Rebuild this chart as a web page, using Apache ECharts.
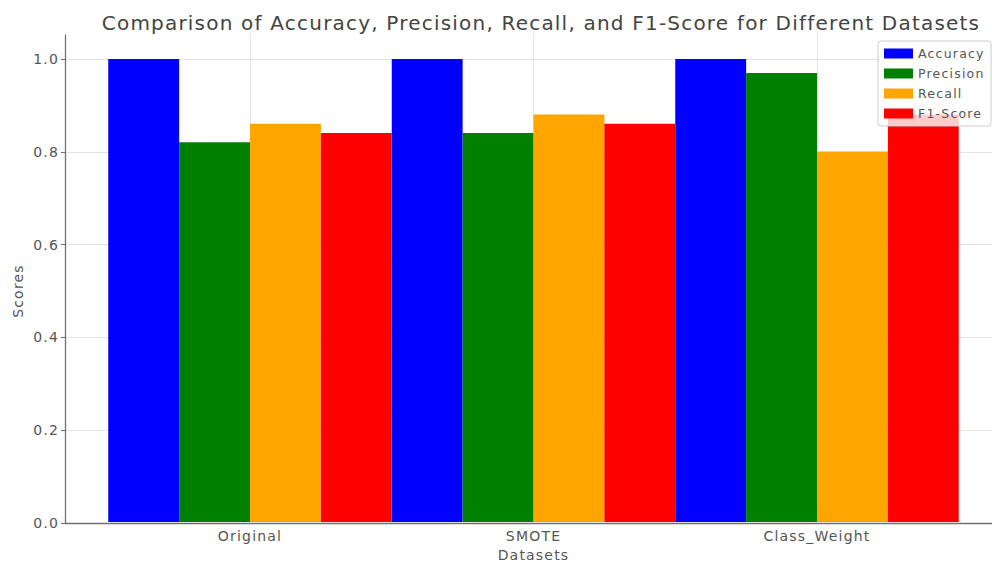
<!DOCTYPE html>
<html>
<head>
<meta charset="utf-8">
<script src="https://cdn.jsdelivr.net/npm/echarts@6/dist/echarts.min.js"></script>
<style>
  html, body { margin: 0; padding: 0; background: #fff; }
  #chart { width: 992px; height: 567px; }
  /* slightly wider lettering for all chart text */
  #chart svg text { letter-spacing: 1.2px; }
</style>
</head>
<body>
<div id="chart"></div>
<script>
// Scores per dataset variant
const datasets = ['Original', 'SMOTE', 'Class_Weight'];
const accuracy = [1.00, 1.00, 1.00];
const precision = [0.82, 0.84, 0.97];
const recall = [0.86, 0.88, 0.80];
const f1Score = [0.84, 0.86, 0.88];
const yTicks = [0, 0.2, 0.4, 0.6, 0.8, 1.0];

const metricNames = ['Accuracy', 'Precision', 'Recall', 'F1-Score'];
const metricValues = [accuracy, precision, recall, f1Score];
const metricColors = ['#0000ff', '#008000', '#ffa500', '#ff0000'];

const textColor = '#555555';
const spineColor = '#707070';
const gridColor = '#e4e4e4';
const font = 'DejaVu Sans';

const chart = echarts.init(document.getElementById('chart'), null, { renderer: 'svg' });

const series = metricNames.map((name, i) => ({
  name: name,
  type: 'bar',
  xAxisIndex: 2,
  yAxisIndex: 2,
  data: metricValues[i],
  barGap: '0%',
  barCategoryGap: '0%',
  itemStyle: { color: metricColors[i] },
  emphasis: { disabled: true }
}));

chart.setOption({
  animation: false,
  backgroundColor: '#ffffff',
  title: {
    text: 'Comparison of Accuracy, Precision, Recall, and F1-Score for Different Datasets',
    left: 536,
    textAlign: 'center',
    top: 8,
    textStyle: { fontFamily: font, fontSize: 20, fontWeight: 'normal', color: '#444444' }
  },
  legend: {
    orient: 'vertical',
    left: 878,
    top: 41,
    itemWidth: 29,
    itemHeight: 10,
    itemGap: 7,
    padding: [6, 16, 6, 6],
    backgroundColor: 'rgba(255,255,255,0.8)',
    borderColor: '#cccccc',
    borderWidth: 1,
    borderRadius: 3,
    icon: 'rect',
    textStyle: { fontFamily: font, fontSize: 12.5, color: textColor },
    data: metricNames
  },
  grid: [
    // outer frame: spines
    { left: 65, top: 35, width: 936, bottom: 44 },
    // tick labels and horizontal gridlines
    { left: 65, top: 59, width: 936, bottom: 44 },
    // bars
    { left: 108.25, top: 59, width: 850.5, bottom: 44 }
  ],
  xAxis: [
    {
      gridIndex: 0, type: 'value', min: 0, max: 1,
      axisLine: { show: true, lineStyle: { color: spineColor, width: 1.3 } },
      axisTick: { show: false }, axisLabel: { show: false }, splitLine: { show: false }
    },
    {
      gridIndex: 1, type: 'value', min: 0, max: 1, show: false
    },
    {
      gridIndex: 2, type: 'category', data: datasets,
      name: 'Datasets', nameLocation: 'middle', nameGap: 26,
      nameTextStyle: { fontFamily: font, fontSize: 14, color: textColor },
      axisLine: { show: false },
      axisTick: {
        show: true, alignWithLabel: true, inside: true, length: 488,
        lineStyle: { color: gridColor, width: 1 }
      },
      axisLabel: { fontFamily: font, fontSize: 14, color: textColor, margin: 7 },
      splitLine: { show: false }
    }
  ],
  yAxis: [
    {
      gridIndex: 0, type: 'value', min: 0, max: 1,
      axisLine: { show: true, lineStyle: { color: spineColor, width: 1.3 } },
      axisTick: { show: false }, axisLabel: { show: false }, splitLine: { show: false }
    },
    {
      gridIndex: 1, type: 'value', min: yTicks[0], max: yTicks[yTicks.length - 1], interval: 0.2,
      name: 'Scores', nameLocation: 'middle', nameGap: 40,
      nameTextStyle: { fontFamily: font, fontSize: 14, color: textColor },
      axisLine: { show: false },
      axisTick: { show: true, length: 4, lineStyle: { color: spineColor } },
      axisLabel: {
        fontFamily: font, fontSize: 14, color: textColor, margin: 6,
        formatter: v => v.toFixed(1)
      },
      splitLine: { show: true, lineStyle: { color: gridColor, width: 1 } }
    },
    {
      gridIndex: 2, type: 'value', min: 0, max: 1, show: false
    }
  ],
  series: series
});
</script>
</body>
</html>
